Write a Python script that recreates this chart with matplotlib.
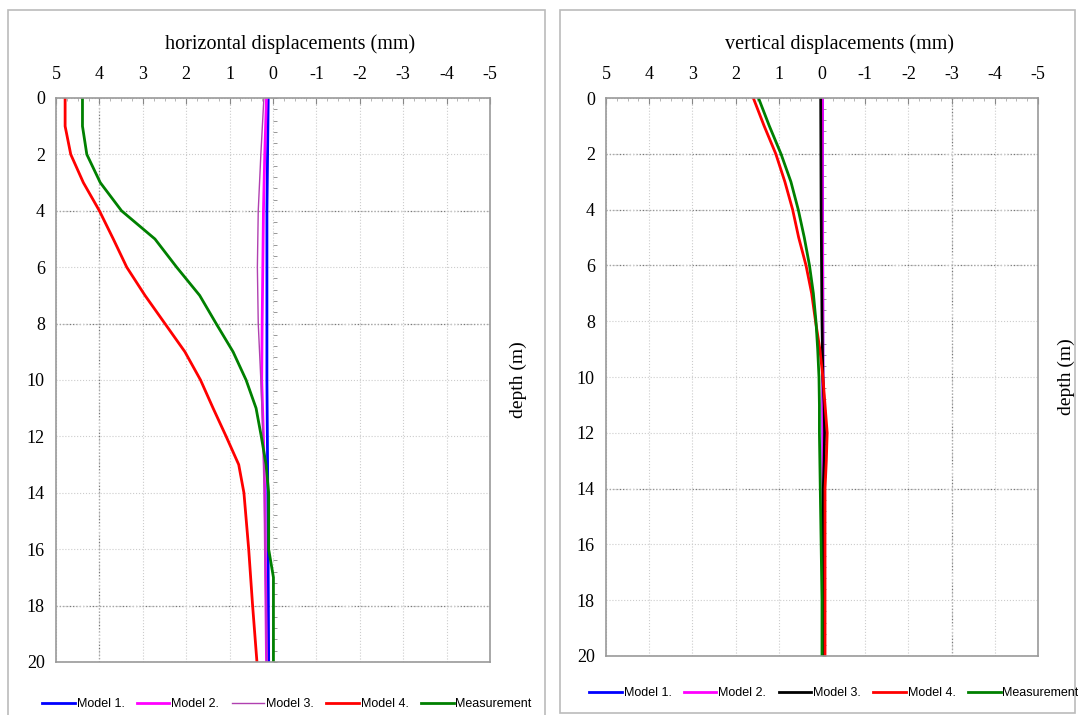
import numpy as np
import matplotlib
matplotlib.use("Agg")
from matplotlib import pyplot as plt
from matplotlib.lines import Line2D
from matplotlib.patches import Rectangle

plt.rcParams['axes.unicode_minus'] = False

# horizontal displacements (mm) vs depth (m)
h_d_m1 = [0, 4, 10, 14, 20]
h_m1 = [0.11, 0.14, 0.14, 0.12, 0.10]
h_d_m2 = [0, 2, 4, 8, 10, 12, 14, 20]
h_m2 = [0.15, 0.19, 0.22, 0.25, 0.26, 0.22, 0.19, 0.15]
h_d_m3 = [0, 2, 4, 6, 8, 9, 10, 12, 14, 20]
h_m3 = [0.21, 0.28, 0.34, 0.36, 0.34, 0.31, 0.28, 0.23, 0.20, 0.15]
h_d_m4 = [0, 1, 2, 3, 4, 5, 6, 7, 8, 9, 10, 11, 12, 13, 14, 16, 18, 20]
h_m4 = [4.79, 4.79, 4.66, 4.37, 4.00, 3.68, 3.37, 2.95, 2.49, 2.03, 1.67,
        1.38, 1.08, 0.79, 0.67, 0.56, 0.47, 0.37]
h_d_meas = [0, 1, 2, 3, 4, 5, 6, 7, 8, 9, 10, 11, 12, 13, 14, 16, 17, 20]
h_meas = [4.39, 4.39, 4.29, 3.98, 3.49, 2.72, 2.22, 1.69, 1.31, 0.92, 0.62,
          0.39, 0.27, 0.16, 0.10, 0.10, -0.01, -0.01]

# vertical displacements (mm) vs depth (m)
v_d_m1 = [0, 10, 20]
v_m1 = [-0.01, -0.02, -0.03]
v_d_m2 = [0, 4, 8, 20]
v_m2 = [-0.01, -0.01, -0.02, -0.03]
v_d_m3 = [0, 4, 8, 10, 11, 12, 13, 14, 16, 20]
v_m3 = [0.03, 0.02, 0.0, -0.02, -0.05, -0.06, -0.05, -0.03, -0.03, -0.03]
v_d_m4 = [0, 1, 2, 3, 4, 5, 6, 7, 8, 9, 10, 11, 12, 13, 14, 16, 18, 20]
v_m4 = [1.59, 1.34, 1.07, 0.86, 0.68, 0.54, 0.37, 0.24, 0.15, 0.05, -0.02,
        -0.07, -0.12, -0.10, -0.07, -0.07, -0.07, -0.07]
v_d_meas = [0, 1, 2, 3, 4, 5, 6, 7, 8, 9, 10, 11, 12, 13, 14, 16, 18, 20]
v_meas = [1.47, 1.22, 0.95, 0.72, 0.55, 0.41, 0.29, 0.20, 0.14, 0.10, 0.07,
          0.06, 0.06, 0.05, 0.04, 0.02, 0.0, 0.0]

x_ticks = [5, 4, 3, 2, 1, 0, -1, -2, -3, -4, -5]
y_ticks = [0, 2, 4, 6, 8, 10, 12, 14, 16, 18, 20]
labels = ['Model 1.', 'Model 2.', 'Model 3.', 'Model 4.', 'Measurement']

serif = ['Liberation Serif', 'DejaVu Serif']
sans = ['Liberation Sans', 'DejaVu Sans']

fig = plt.figure(figsize=(10.78, 7.15), dpi=100)

# panel frames
fig.patches.append(Rectangle((8 / 1078, -0.01), 537 / 1078, 1 - 10 / 715 + 0.01,
                             transform=fig.transFigure, fill=False,
                             edgecolor='#bbbbbb', linewidth=1.2))
fig.patches.append(Rectangle((560 / 1078, 2 / 715), 515 / 1078, 703 / 715,
                             transform=fig.transFigure, fill=False,
                             edgecolor='#bbbbbb', linewidth=1.2))


def setup(ax, title, dark_h, dark_v):
    ax.set_xlim(5, -5)
    ax.set_ylim(20, 0)
    ax.xaxis.tick_top()
    ax.set_xticks(x_ticks)
    ax.set_xticks(np.arange(-5, 5.01, 0.25), minor=True)
    ax.set_yticks(y_ticks)
    ax.tick_params(axis='x', which='major', direction='in', length=4,
                   color='#888888', labelsize=13, pad=11)
    ax.tick_params(axis='x', which='minor', direction='in', length=2,
                   color='#aaaaaa')
    ax.tick_params(axis='y', length=0, labelsize=13, pad=8)
    for lab in ax.get_xticklabels() + ax.get_yticklabels():
        lab.set_family(serif)
    for s in ax.spines.values():
        s.set_color('#999999')
        s.set_linewidth(1.2)
    ax.grid(True, linestyle=':', color='#cccccc', linewidth=0.8)
    for y in dark_h:
        ax.axhline(y, linestyle=':', color='#777777', linewidth=0.9, zorder=0.5)
    for x in dark_v:
        ax.axvline(x, linestyle=':', color='#777777', linewidth=0.9, zorder=0.5)
    ax.set_title(title, family=serif, fontsize=14.5, pad=35, x=0.54)
    ax.yaxis.set_label_position('right')
    ax.set_ylabel('depth (m)', family=serif, fontsize=14, labelpad=14)
    sec = ax.secondary_yaxis(0.5)
    sec.set_yticks(np.arange(0, 20.01, 0.4))
    sec.set_yticklabels([])
    sec.tick_params(length=3, width=0.6, color='#888888', direction='out')
    sec.spines['right'].set_visible(False)
    sec.spines['left'].set_visible(False)


ax1 = fig.add_axes([56 / 1078, 1 - 662 / 715, 434 / 1078, 564 / 715])
setup(ax1, 'horizontal displacements (mm)', [4, 8, 18], [4])
ax1.plot(h_m1, h_d_m1, color='#0000ff', lw=2)
ax1.plot(h_m2, h_d_m2, color='#ff00ff', lw=2)
ax1.plot(h_m3, h_d_m3, color='#b040b0', lw=1)
ax1.plot(h_m4, h_d_m4, color='#ff0000', lw=2)
ax1.plot(h_meas, h_d_meas, color='#008000', lw=2)

ax2 = fig.add_axes([606 / 1078, 1 - 656 / 715, 432 / 1078, 558 / 715])
setup(ax2, 'vertical displacements (mm)', [2, 4, 6, 14], [-3])
ax2.plot(v_m1, v_d_m1, color='#0000ff', lw=2)
ax2.plot(v_m2, v_d_m2, color='#ff00ff', lw=2)
ax2.plot(v_m3, v_d_m3, color='#000000', lw=2)
ax2.plot(v_m4, v_d_m4, color='#ff0000', lw=2)
ax2.plot(v_meas, v_d_meas, color='#008000', lw=2)


def legend(colors, widths, cx, cy):
    handles = [Line2D([], [], color=c, lw=w) for c, w in zip(colors, widths)]
    fig.legend(handles, labels, loc='center', bbox_to_anchor=(cx, cy),
               ncol=5, frameon=False, handlelength=2.6, handletextpad=0.15,
               columnspacing=1.0, prop={'family': sans, 'size': 9})


legend(['#0000ff', '#ff00ff', '#b040b0', '#ff0000', '#008000'],
       [2, 2, 1, 2, 2], 287 / 1078, 1 - 704 / 715)
legend(['#0000ff', '#ff00ff', '#000000', '#ff0000', '#008000'],
       [2, 2, 2, 2, 2], 834 / 1078, 1 - 693 / 715)

fig.savefig('out.png', dpi=100)
